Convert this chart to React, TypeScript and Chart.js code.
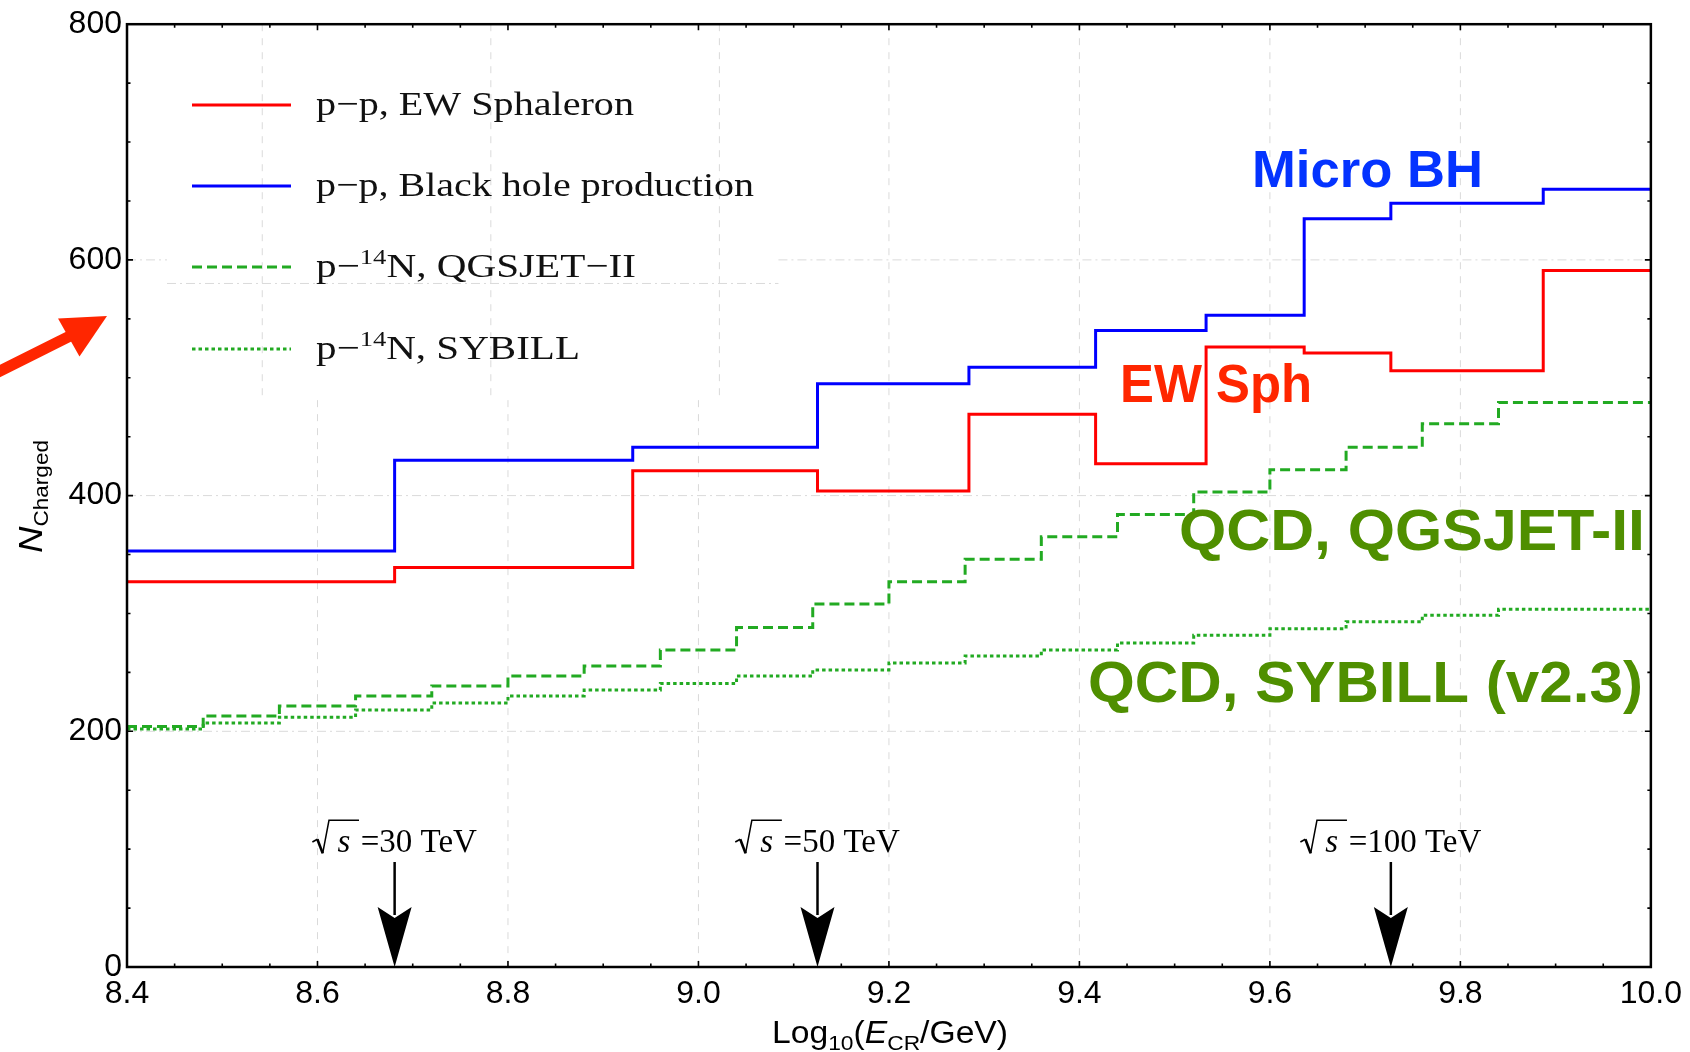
import React, { useEffect, useRef } from 'react';
import { Chart, registerables } from 'chart.js';

Chart.register(...registerables);

// ---------- data ----------
// p-p curves: bin edges (log10 E/GeV) and levels
const ppEdges = [8.4, 8.681, 8.931, 9.125, 9.284, 9.417, 9.533, 9.636, 9.727, 9.887, 10.0];
const sphaleronValues = [327, 339, 421, 404, 469, 427, 526, 521, 506, 591];
const blackHoleValues = [353, 430, 441, 495, 509, 540, 553, 635, 648, 660];

// p-14N curves
const n14Edges = [8.40, 8.48, 8.56, 8.64, 8.72, 8.80, 8.88, 8.96, 9.04, 9.12, 9.20, 9.28, 9.36, 9.44, 9.52, 9.60, 9.68, 9.76, 9.84, 10.0];
const qgsjetValues = [204, 213, 221.5, 230, 238.5, 247, 255.5, 269, 288, 308, 327, 346, 365, 384, 403, 422, 441, 461, 479];
const sybillValues = [202, 207, 212, 218, 224, 230, 235, 240.5, 247, 252, 258, 264, 269, 275, 281.5, 287, 293, 298.5, 303.5];

// ticks
const xTickValues = [8.4, 8.6, 8.8, 9.0, 9.2, 9.4, 9.6, 9.8, 10.0];
const yTickValues = [0, 200, 400, 600, 800];

// markers for sqrt(s)
const arrowPositions = [8.681, 9.125, 9.727];
const arrowLabels = ['=30 TeV', '=50 TeV', '=100 TeV'];

// legend & annotations
const legendLabels = ['p−p, EW Sphaleron', 'p−p, Black hole production', 'p−14N, QGSJET−II', 'p−14N, SYBILL'];
const annotationTexts = ['Micro BH', 'EW Sph', 'QCD, QGSJET-II', 'QCD, SYBILL (v2.3)'];

// ---------- helpers ----------
const SANS = '"Liberation Sans", Arial, sans-serif';
const SERIF = '"Liberation Serif", "Times New Roman", serif';

function toSteps(edges: number[], values: number[]) {
  const pts = values.map((v, i) => ({ x: edges[i], y: v }));
  pts.push({ x: edges[edges.length - 1], y: values[values.length - 1] });
  return pts;
}

type Seg = { t: string; font: string; dy?: number };

function segsWidth(ctx: CanvasRenderingContext2D, segs: Seg[]) {
  let w = 0;
  for (const s of segs) {
    ctx.font = s.font;
    w += ctx.measureText(s.t).width;
  }
  return w;
}

function drawSegs(ctx: CanvasRenderingContext2D, segs: Seg[], x: number, y: number, targetW?: number) {
  const w = segsWidth(ctx, segs);
  const sx = targetW ? targetW / w : 1;
  ctx.save();
  ctx.translate(x, y);
  ctx.scale(sx, 1);
  ctx.textAlign = 'left';
  ctx.textBaseline = 'alphabetic';
  let cx = 0;
  for (const s of segs) {
    ctx.font = s.font;
    ctx.fillText(s.t, cx, s.dy || 0);
    cx += ctx.measureText(s.t).width;
  }
  ctx.restore();
}

const decor = {
  id: 'decor',
  beforeDatasetsDraw(chart: any) {
    const { ctx, chartArea: a, scales } = chart;
    const x = scales.x;
    const y = scales.y;
    ctx.save();
    ctx.strokeStyle = '#dadada';
    ctx.lineWidth = 1;
    // pasted legend region (ghost grid)
    const gx0 = x.getPixelForValue(8.442);
    const gx1 = x.getPixelForValue(9.084);
    const gyBottom = y.getPixelForValue(481);
    // vertical dashed grid
    ctx.setLineDash([7, 7]);
    for (const v of xTickValues) {
      if (v <= 8.4 || v >= 10.0) continue;
      const px = x.getPixelForValue(v);
      const top = px > gx0 && px < gx1 ? gyBottom : a.top;
      ctx.beginPath();
      ctx.moveTo(px, top);
      ctx.lineTo(px, a.bottom);
      ctx.stroke();
    }
    for (const v of [8.542, 8.782, 9.022]) {
      const px = x.getPixelForValue(v);
      ctx.beginPath();
      ctx.moveTo(px, a.top);
      ctx.lineTo(px, gyBottom);
      ctx.stroke();
    }
    // horizontal dash-dot grid
    ctx.setLineDash([9, 4, 2, 4]);
    for (const v of yTickValues) {
      if (v <= 0 || v >= 800) continue;
      const py = y.getPixelForValue(v);
      if (py < gyBottom) {
        ctx.beginPath();
        ctx.moveTo(a.left, py);
        ctx.lineTo(gx0, py);
        ctx.moveTo(gx1, py);
        ctx.lineTo(a.right, py);
        ctx.stroke();
      } else {
        ctx.beginPath();
        ctx.moveTo(a.left, py);
        ctx.lineTo(a.right, py);
        ctx.stroke();
      }
    }
    const ghostY = y.getPixelForValue(580);
    ctx.beginPath();
    ctx.moveTo(gx0, ghostY);
    ctx.lineTo(gx1, ghostY);
    ctx.stroke();
    ctx.restore();
  },
  afterDatasetsDraw(chart: any) {
    const { ctx, chartArea: a, scales } = chart;
    const x = scales.x;
    const y = scales.y;
    ctx.save();

    // ---- frame ----
    ctx.setLineDash([]);
    ctx.strokeStyle = '#000';
    ctx.lineWidth = 2.5;
    ctx.strokeRect(a.left, a.top, a.right - a.left, a.bottom - a.top);

    // ---- tick marks (inward, all sides) ----
    ctx.lineWidth = 1.6;
    for (let i = 0; i <= 32; i++) {
      const v = 8.4 + i * 0.05;
      const px = x.getPixelForValue(v);
      const len = i % 4 === 0 ? 6 : 3.5;
      ctx.beginPath();
      ctx.moveTo(px, a.bottom);
      ctx.lineTo(px, a.bottom - len);
      ctx.moveTo(px, a.top);
      ctx.lineTo(px, a.top + len);
      ctx.stroke();
    }
    for (let i = 0; i <= 16; i++) {
      const v = i * 50;
      const py = y.getPixelForValue(v);
      const len = i % 4 === 0 ? 6 : 3.5;
      ctx.beginPath();
      ctx.moveTo(a.left, py);
      ctx.lineTo(a.left + len, py);
      ctx.moveTo(a.right, py);
      ctx.lineTo(a.right - len, py);
      ctx.stroke();
    }

    // ---- legend ----
    const rowsY = [105, 186, 267, 349];
    const styles = [
      { c: '#ff0000', d: [] as number[] },
      { c: '#0000ff', d: [] as number[] },
      { c: '#22aa22', d: [10, 5] },
      { c: '#22aa22', d: [3.5, 3] },
    ];
    const legendW = [318, 438, 320, 264];
    const LF = `34px ${SERIF}`;
    const LS = `22px ${SERIF}`;
    for (let i = 0; i < 4; i++) {
      ctx.strokeStyle = styles[i].c;
      ctx.setLineDash(styles[i].d);
      ctx.lineWidth = 3;
      ctx.beginPath();
      ctx.moveTo(192, rowsY[i]);
      ctx.lineTo(291, rowsY[i]);
      ctx.stroke();
      ctx.setLineDash([]);
      ctx.fillStyle = '#111';
      const lbl = legendLabels[i];
      let segs: Seg[];
      if (lbl.indexOf('14') >= 0) {
        const [pre, post] = lbl.split('14');
        segs = [
          { t: pre, font: LF },
          { t: '14', font: LS, dy: -13 },
          { t: post, font: LF },
        ];
      } else {
        segs = [{ t: lbl, font: LF }];
      }
      drawSegs(ctx, segs, 316, rowsY[i] + 10, legendW[i]);
    }

    // ---- annotations ----
    const ann = [
      { t: annotationTexts[0], c: '#0433ff', x: 1252, b: 187, s: 52, w: 231 },
      { t: annotationTexts[1], c: '#ff2600', x: 1120, b: 402, s: 54, w: 192 },
      { t: annotationTexts[2], c: '#4f8f00', x: 1179, b: 550, s: 58, w: 466 },
      { t: annotationTexts[3], c: '#4f8f00', x: 1088, b: 702, s: 58, w: 555 },
    ];
    for (const an of ann) {
      ctx.fillStyle = an.c;
      drawSegs(ctx, [{ t: an.t, font: `bold ${an.s}px ${SANS}` }], an.x, an.b, an.w);
    }

    // ---- sqrt(s) arrows ----
    ctx.fillStyle = '#000';
    ctx.strokeStyle = '#000';
    const base = 852;
    for (let i = 0; i < arrowPositions.length; i++) {
      const px = x.getPixelForValue(arrowPositions[i]);
      // arrow
      ctx.lineWidth = 2.5;
      ctx.beginPath();
      ctx.moveTo(px, 862);
      ctx.lineTo(px, 915);
      ctx.stroke();
      ctx.beginPath();
      ctx.moveTo(px, a.bottom);
      ctx.lineTo(px - 17, 907);
      ctx.lineTo(px, 918);
      ctx.lineTo(px + 17, 907);
      ctx.closePath();
      ctx.fill();
      // label
      const tf = `33px ${SERIF}`;
      ctx.font = tf;
      const tw = ctx.measureText(arrowLabels[i]).width;
      const groupW = 48.3 + tw;
      const L = px - groupW / 2;
      ctx.lineWidth = 1.6;
      ctx.beginPath();
      ctx.moveTo(L, base - 10);
      ctx.lineTo(L + 5, base - 12.7);
      ctx.stroke();
      ctx.lineWidth = 2.6;
      ctx.beginPath();
      ctx.moveTo(L + 5, base - 12.7);
      ctx.lineTo(L + 10.3, base + 1.3);
      ctx.stroke();
      ctx.lineWidth = 1.5;
      ctx.beginPath();
      ctx.moveTo(L + 10.3, base + 1.3);
      ctx.lineTo(L + 16.6, base - 31.7);
      ctx.lineTo(L + 46.6, base - 31.7);
      ctx.stroke();
      ctx.textAlign = 'left';
      ctx.textBaseline = 'alphabetic';
      ctx.font = `italic 33px ${SERIF}`;
      ctx.fillText('s', L + 25, base);
      ctx.font = tf;
      ctx.fillText(arrowLabels[i], L + 48.3, base);
    }

    // ---- axis titles ----
    ctx.fillStyle = '#000';
    const TF = `31px ${SANS}`;
    const TS = `21px ${SANS}`;
    drawSegs(
      ctx,
      [
        { t: 'Log', font: TF },
        { t: '10', font: TS, dy: 7 },
        { t: '(', font: TF },
        { t: 'E', font: `italic 31px ${SANS}` },
        { t: 'CR', font: TS, dy: 7 },
        { t: '/GeV)', font: TF },
      ],
      772,
      1043,
      236,
    );
    ctx.save();
    ctx.translate(42, 553);
    ctx.rotate(-Math.PI / 2);
    drawSegs(
      ctx,
      [
        { t: 'N', font: `italic 34px ${SANS}` },
        { t: 'Charged', font: TS, dy: 6 },
      ],
      0,
      0,
      113,
    );
    ctx.restore();

    // ---- red pointer arrow (left margin) ----
    ctx.fillStyle = '#ff2600';
    ctx.strokeStyle = '#ff2600';
    ctx.lineWidth = 11;
    ctx.lineCap = 'butt';
    ctx.beginPath();
    ctx.moveTo(-12, 377);
    ctx.lineTo(72, 335);
    ctx.stroke();
    ctx.beginPath();
    ctx.moveTo(107, 316);
    ctx.lineTo(58, 318.5);
    ctx.lineTo(79.5, 356.5);
    ctx.closePath();
    ctx.fill();

    ctx.restore();
  },
};

export default function App() {
  const ref = useRef<HTMLCanvasElement | null>(null);
  useEffect(() => {
    const canvas = ref.current;
    if (!canvas) return;
    const chart = new Chart(canvas, {
      type: 'line',
      data: {
        datasets: [
          {
            label: legendLabels[0],
            data: toSteps(ppEdges, sphaleronValues),
            borderColor: '#ff0000',
            borderWidth: 3,
            stepped: true,
            pointRadius: 0,
            fill: false,
          },
          {
            label: legendLabels[1],
            data: toSteps(ppEdges, blackHoleValues),
            borderColor: '#0000ff',
            borderWidth: 3,
            stepped: true,
            pointRadius: 0,
            fill: false,
          },
          {
            label: legendLabels[2],
            data: toSteps(n14Edges, qgsjetValues),
            borderColor: '#22aa22',
            borderWidth: 3,
            borderDash: [10, 5],
            stepped: true,
            pointRadius: 0,
            fill: false,
          },
          {
            label: legendLabels[3],
            data: toSteps(n14Edges, sybillValues),
            borderColor: '#22aa22',
            borderWidth: 3,
            borderDash: [3.5, 3],
            stepped: true,
            pointRadius: 0,
            fill: false,
          },
        ],
      },
      options: {
        responsive: false,
        maintainAspectRatio: false,
        animation: false,
        devicePixelRatio: 1,
        layout: { padding: { left: 0, right: 37, top: 24, bottom: 0 } },
        plugins: {
          legend: { display: false },
          tooltip: { enabled: false },
          title: { display: false },
        },
        scales: {
          x: {
            type: 'linear',
            min: 8.4,
            max: 10.0,
            grid: { display: false, drawTicks: false },
            border: { display: false },
            afterBuildTicks: (s: any) => {
              s.ticks = xTickValues.map((v) => ({ value: v }));
            },
            afterFit: (s: any) => {
              s.height = 85;
            },
            ticks: {
              autoSkip: false,
              maxRotation: 0,
              padding: 8,
              color: '#000',
              font: { family: 'Liberation Sans', size: 32 },
              callback: (v: any) => Number(v).toFixed(1),
            },
          },
          y: {
            type: 'linear',
            min: 0,
            max: 800,
            grid: { display: false, drawTicks: false },
            border: { display: false },
            afterBuildTicks: (s: any) => {
              s.ticks = yTickValues.map((v) => ({ value: v }));
            },
            afterFit: (s: any) => {
              s.width = 127;
            },
            ticks: {
              padding: 5,
              color: '#000',
              font: { family: 'Liberation Sans', size: 32 },
              callback: (v: any) => String(v),
            },
          },
        },
      },
      plugins: [decor],
    } as any);
    return () => chart.destroy();
  }, []);
  return (
    <div style={{ position: 'fixed', left: 0, top: 0, width: 1690, height: 1052, background: '#fff' }}>
      <canvas ref={ref} width={1690} height={1052} style={{ width: 1690, height: 1052, display: 'block' }} />
    </div>
  );
}
